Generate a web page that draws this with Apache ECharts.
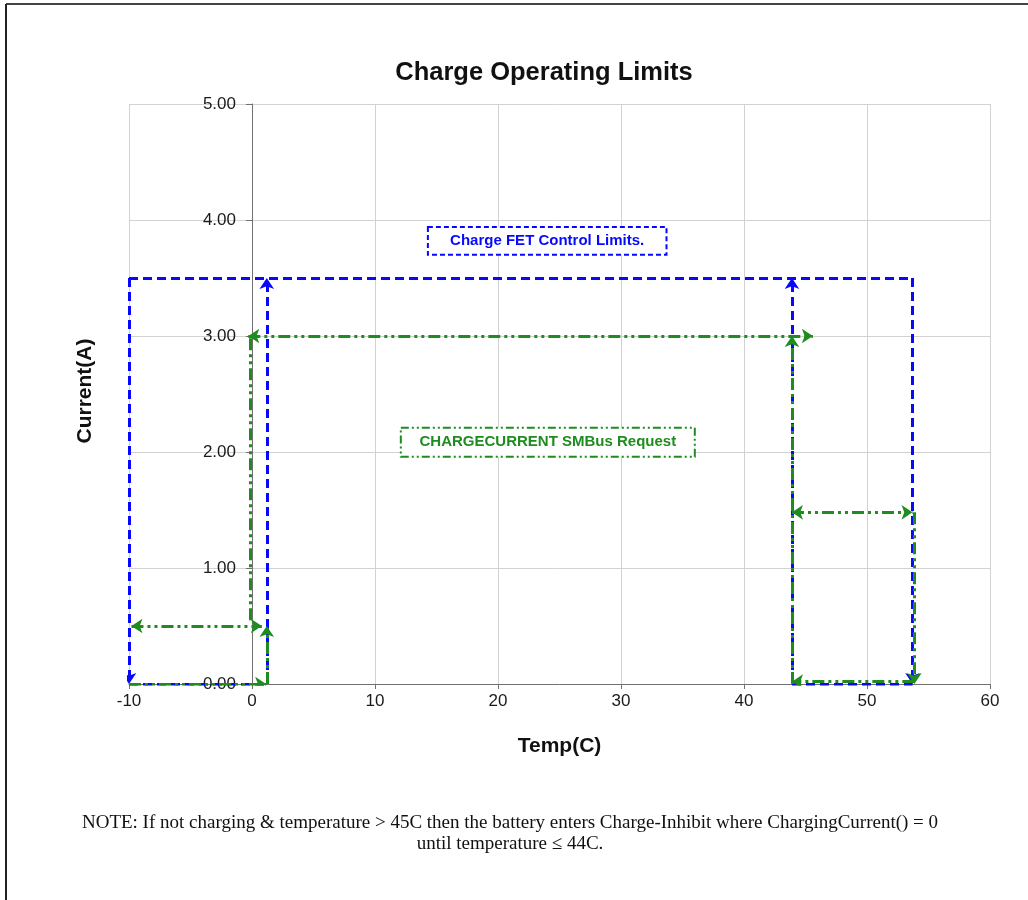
<!DOCTYPE html>
<html><head><meta charset="utf-8">
<script src="https://cdn.jsdelivr.net/npm/echarts@6/dist/echarts.min.js"></script>
<style>html,body{margin:0;padding:0;background:#fff}#c{width:1028px;height:900px}</style>
</head><body><div id="c"></div>
<script>
// ---- data ----
const chartTitle = 'Charge Operating Limits';
const xName = 'Temp(C)';
const yName = 'Current(A)';
const xRange = [-10, 60, 10];
const yRange = [0, 5, 1];
// Charge FET Control Limits (blue dashed): [from, to, arrows]
const fetSegments = [
  [[-10, 0], [1.2, 0], 'none'],
  [[43.9, 0], [53.7, 0], 'none'],
  [[-10, 3.5], [53.7, 3.5], 'none'],
  [[-10, 3.5], [-10, 0], 'end'],
  [[1.2, 0], [1.2, 3.5], 'end'],
  [[43.9, 0], [43.9, 3.5], 'end'],
  [[53.7, 3.5], [53.7, 0], 'end']
];
// CHARGECURRENT SMBus Request (green dash-dot-dot)
const smbusSegments = [
  [[-9.8, 0.5], [0.8, 0.5], 'both'],
  [[-10, 0], [1.15, 0], 'end'],
  [[1.2, 0], [1.2, 0.5], 'end'],
  [[-0.15, 0.55], [-0.15, 3.0], 'none'],
  [[-0.3, 3.0], [45.6, 3.0], 'both'],
  [[43.9, 1.5], [43.9, 3.0], 'end'],
  [[43.9, 0], [43.9, 1.5], 'none'],
  [[43.9, 1.48], [53.7, 1.48], 'both'],
  [[53.85, 1.48], [53.85, 0], 'end'],
  [[53.85, 0.02], [43.9, 0.02], 'end']
];
const fetLabel = {text: 'Charge FET Control Limits.', x0: 14.3, x1: 33.7, y0: 3.70, y1: 3.94};
const smbusLabel = {text: 'CHARGECURRENT SMBus Request', x0: 12.1, x1: 36.0, y0: 1.96, y1: 2.21};
const noteLines = [
  'NOTE: If not charging & temperature > 45C then the battery enters Charge-Inhibit where ChargingCurrent() = 0',
  'until temperature \u2264 44C.'
];

const BLUE = '#0808ff', GREEN = '#1e8c1e';
const blueDash = [9, 5];
const greenDash = [12, 4, 3, 4, 3, 4];
const GRID_LEFT = 129;

function symFor(a) {
  if (a === 'end') return ['none', 'arrow'];
  if (a === 'both') return ['arrow', 'arrow'];
  return ['none', 'none'];
}
function mkSeries(segs, color, dash, z) {
  return segs.map(s => ({
    type: 'lines', coordinateSystem: 'cartesian2d', z: z,
    symbol: symFor(s[2]), symbolSize: 11,
    lineStyle: {color: color, width: 3, type: dash, opacity: 1},
    itemStyle: {color: color},
    data: [{coords: [s[0], s[1]]}],
    silent: true, animation: false
  }));
}

const chart = echarts.init(document.getElementById('c'));
const option = {
  animation: false,
  backgroundColor: '#fff',
  grid: {left: GRID_LEFT, right: 38, top: 104, bottom: 216, containLabel: false},
  xAxis: {
    type: 'value', min: xRange[0], max: xRange[1], interval: xRange[2],
    name: xName, nameLocation: 'middle', nameGap: 52,
    nameTextStyle: {fontFamily: 'Liberation Sans', fontSize: 21, fontWeight: 'bold', color: '#111'},
    axisLine: {onZero: false, lineStyle: {color: '#707070', width: 1}},
    axisTick: {show: true, length: 5, lineStyle: {color: '#707070'}},
    axisLabel: {fontFamily: 'Liberation Sans', fontSize: 17, color: '#1a1a1a', margin: 9},
    splitLine: {show: true, lineStyle: {color: '#d2d2d2', width: 1}}
  },
  yAxis: {
    type: 'value', min: yRange[0], max: yRange[1], interval: yRange[2],
    axisLine: {show: true, onZero: false, lineStyle: {color: '#707070', width: 1}},
    axisTick: {show: true, length: 6, lineStyle: {color: '#707070'}},
    axisLabel: {fontFamily: 'Liberation Sans', fontSize: 17, color: '#1a1a1a', margin: 16,
      formatter: v => v.toFixed(2)},
    splitLine: {show: true, lineStyle: {color: '#d2d2d2', width: 1}}
  },
  series: mkSeries(fetSegments, BLUE, blueDash, 2).concat(mkSeries(smbusSegments, GREEN, greenDash, 3))
};
chart.setOption(option);
// place the y axis (line, ticks, labels) at x = 0
const zeroPx = chart.convertToPixel({gridIndex: 0}, [0, 0])[0];
chart.setOption({yAxis: {offset: -(zeroPx - GRID_LEFT)}});

function boxGraphic(lbl, color, dash, id) {
  const p0 = chart.convertToPixel({gridIndex: 0}, [lbl.x0, lbl.y1]);
  const p1 = chart.convertToPixel({gridIndex: 0}, [lbl.x1, lbl.y0]);
  return [
    {type: 'rect', id: id + 'r', z: 10, shape: {x: p0[0], y: p0[1], width: p1[0] - p0[0], height: p1[1] - p0[1]},
     style: {fill: '#fff', stroke: color, lineWidth: 2, lineDash: dash}},
    {type: 'text', id: id + 't', z: 11, x: (p0[0] + p1[0]) / 2, y: (p0[1] + p1[1]) / 2,
     style: {text: lbl.text, fill: color, font: 'bold 15px "Liberation Sans"', align: 'center', verticalAlign: 'middle'}}
  ];
}
const g = [].concat(
  boxGraphic(fetLabel, BLUE, [5, 3], 'fet'),
  boxGraphic(smbusLabel, GREEN, [8, 3, 2, 3, 2, 3], 'sm'),
  [
    {type: 'text', id: 'title', x: 544, y: 73,
     style: {text: chartTitle, fill: '#111', font: 'bold 25.5px "Liberation Sans"', align: 'center', verticalAlign: 'middle'}},
    {type: 'text', id: 'yname', x: 85, y: 391, rotation: Math.PI / 2,
     style: {text: yName, fill: '#111', font: 'bold 21px "Liberation Sans"', align: 'center', verticalAlign: 'middle'}},
    {type: 'text', id: 'n1', x: 510, y: 823,
     style: {text: noteLines[0], fill: '#111', font: '19px "Liberation Serif"', align: 'center', verticalAlign: 'middle'}},
    {type: 'text', id: 'n2', x: 510, y: 844,
     style: {text: noteLines[1], fill: '#111', font: '19px "Liberation Serif"', align: 'center', verticalAlign: 'middle'}},
    {type: 'line', id: 'bt', shape: {x1: 6, y1: 4, x2: 1028, y2: 4}, style: {stroke: '#444', lineWidth: 2}},
    {type: 'line', id: 'bl', shape: {x1: 6, y1: 4, x2: 6, y2: 900}, style: {stroke: '#222', lineWidth: 2}}
  ]
);
chart.setOption({graphic: g});
</script>
</body></html>
